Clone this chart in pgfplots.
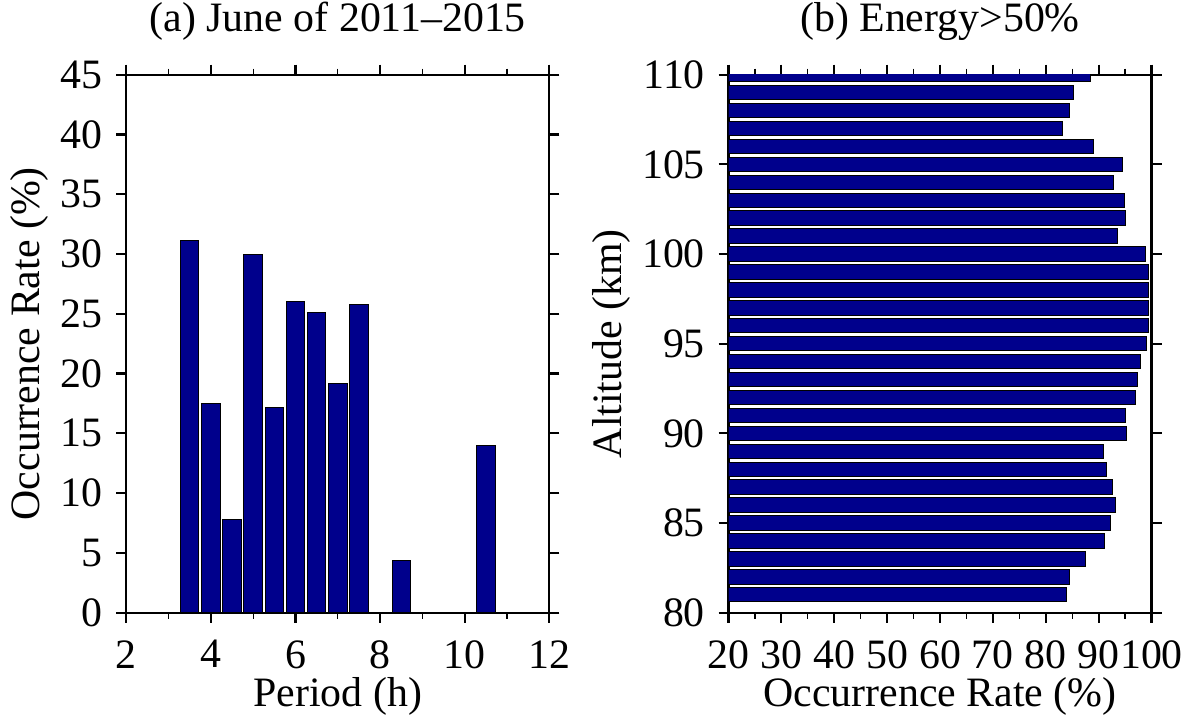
\documentclass[border=0pt]{standalone}
\usepackage{fontspec}
\setmainfont{Liberation Serif}
\usepackage{pgfplots}
\pgfplotsset{compat=1.18}
\definecolor{barblue}{RGB}{0,0,140}
\pgfplotsset{
  myaxis/.style={
    scale only axis, width=211.5bp, height=269bp,
    font=\fontsize{21}{25}\selectfont,
    /pgf/number format/assume math mode=true,
    tick align=outside,
    major tick length=5bp, minor tick length=3bp,
    xticklabel style={inner sep=0pt}, yticklabel style={inner sep=0pt},
    xticklabel shift=8.65bp, yticklabel shift=6.6bp,
    axis line style={line width=1.1bp},
    major tick style={black, line width=1.1bp},
    minor tick style={black, line width=0.6bp},
    title style={at={([yshift=15.75bp]axis description cs:0.5,1)}, anchor=base, inner sep=0pt},
    xlabel style={at={([yshift=-47bp]axis description cs:0.5,0)}, anchor=base, inner sep=0pt},
  }
}
\begin{document}
\begin{tikzpicture}[x=1bp,y=1bp]
\useasboundingbox (-63.15bp,-51.15bp) rectangle (529.85bp,306.35bp);
\begin{axis}[myaxis, at={(0bp,0bp)}, anchor=south west,
  xmin=2, xmax=12, ymin=0, ymax=45,
  xtick={2,4,...,12}, minor xtick={3,5,...,11},
  ytick={0,5,...,45},
  title={(a) June of 2011--2015},
  xlabel={Period (h)}, ylabel={Occurrence Rate (\%)},
  ylabel style={at={([xshift=-48.3bp]axis description cs:0,0.5)}, anchor=center, inner sep=0pt},
]
\addplot[ybar, bar width=0.435, fill=barblue, draw=black, line width=0.5bp] coordinates {
(3.5,31.1) (4.0,17.5) (4.5,7.8) (5.0,30.0) (5.5,17.2) (6.0,26.0) (6.5,25.1) (7.0,19.2) (7.5,25.8) (8.5,4.4) (10.5,14.0)
};
\end{axis}
\begin{axis}[myaxis, at={(301.1bp,0bp)}, anchor=south west,
  xmin=20, xmax=100, ymin=80, ymax=110,
  xtick={20,30,...,100}, minor xtick={25,35,...,95},
  ytick={80,85,...,110},
  title={(b) Energy>50\%},
  xlabel={Occurrence Rate (\%)}, ylabel={Altitude (km)},
  ylabel style={at={([xshift=-58.75bp]axis description cs:0,0.5)}, anchor=center, inner sep=0pt},
]
\addplot[xbar, bar width=0.8, fill=barblue, draw=black, line width=0.5bp] coordinates {
(83.9,81) (84.4,82) (87.5,83) (91.2,84) (92.2,85) (93.1,86) (92.7,87) (91.4,88) (91.0,89) (95.3,90)
(95.1,91) (97.0,92) (97.3,93) (98.0,94) (99.0,95) (99.5,96) (99.5,97) (99.5,98) (99.5,99) (98.8,100)
(93.6,101) (95.1,102) (94.9,103) (92.9,104) (94.6,105) (89.0,106) (83.2,107) (84.4,108) (85.3,109) (88.4,110)
};
\end{axis}
\end{tikzpicture}
\end{document}
